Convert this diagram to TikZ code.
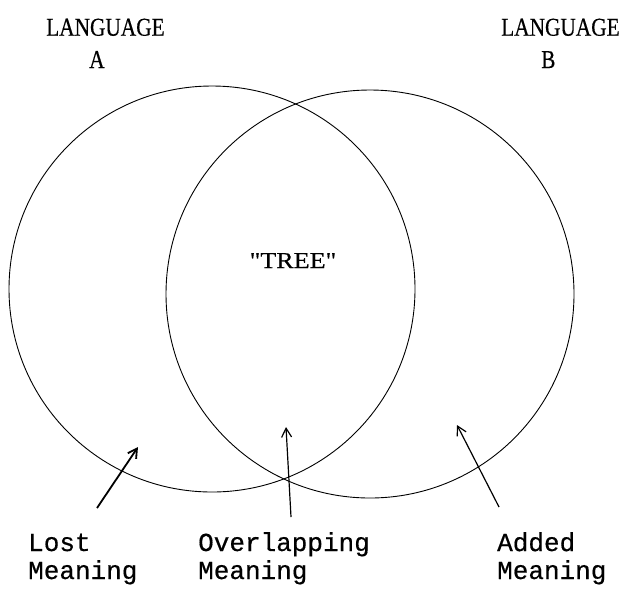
\documentclass[tikz,border=0pt]{standalone}
\usepackage{fontspec}
\usetikzlibrary{arrows.meta}
\newfontfamily\typefont[FakeBold=0.5]{Liberation Mono}
\newfontfamily\langfont[FakeStretch=0.83,FakeBold=0.4]{Liberation Serif}
\newfontfamily\treefont[FakeStretch=1.15,FakeBold=0.4]{Liberation Serif}

\begin{document}
\begin{tikzpicture}[x=1pt,y=-1pt,
  venn/.style={draw=black,line width=0.9pt,circle,inner sep=0pt,outer sep=0pt},
  lab/.style={font=\typefont\fontsize{26}{28}\selectfont,align=left,anchor=base west,inner sep=0pt},
  langlab/.style={font=\langfont\fontsize{25.7}{32.3}\selectfont,align=left,anchor=base west,inner sep=0pt},
  pointer/.style={line width=1.2pt,-{Straight Barb[length=9pt,width=10pt]}}]
\useasboundingbox (0,0) rectangle (628,590);

\node[venn,minimum size=406pt] (circA) at (212,289) {};
\node[venn,minimum size=408pt] (circB) at (370,294) {};

\node[langlab] (langA) at (46,68) {LANGUAGE\\\hspace*{43pt}A};
\node[langlab] (langB) at (501,68) {LANGUAGE\\\hspace*{40pt}B};

\node[font=\treefont\fontsize{22.7}{27}\selectfont,anchor=base,inner sep=0pt] (tree) at (293,268) {"TREE"};

\node[lab] (lost) at (28,579) {Lost\\Meaning};
\node[lab] (overlap) at (198,579) {Overlapping\\Meaning};
\node[lab] (added) at (497,579) {Added\\Meaning};

\coordinate (lostTail) at (97,508);
\coordinate (lostHead) at (138,447);
\coordinate (overTail) at (291,517);
\coordinate (overHead) at (286,427);
\coordinate (addTail) at (499,507);
\coordinate (addHead) at (457,425);

\draw[pointer,line width=1.8pt] (lostTail) -- (lostHead);
\draw[pointer] (overTail) -- (overHead);
\draw[pointer] (addTail) -- (addHead);
\end{tikzpicture}
\end{document}
